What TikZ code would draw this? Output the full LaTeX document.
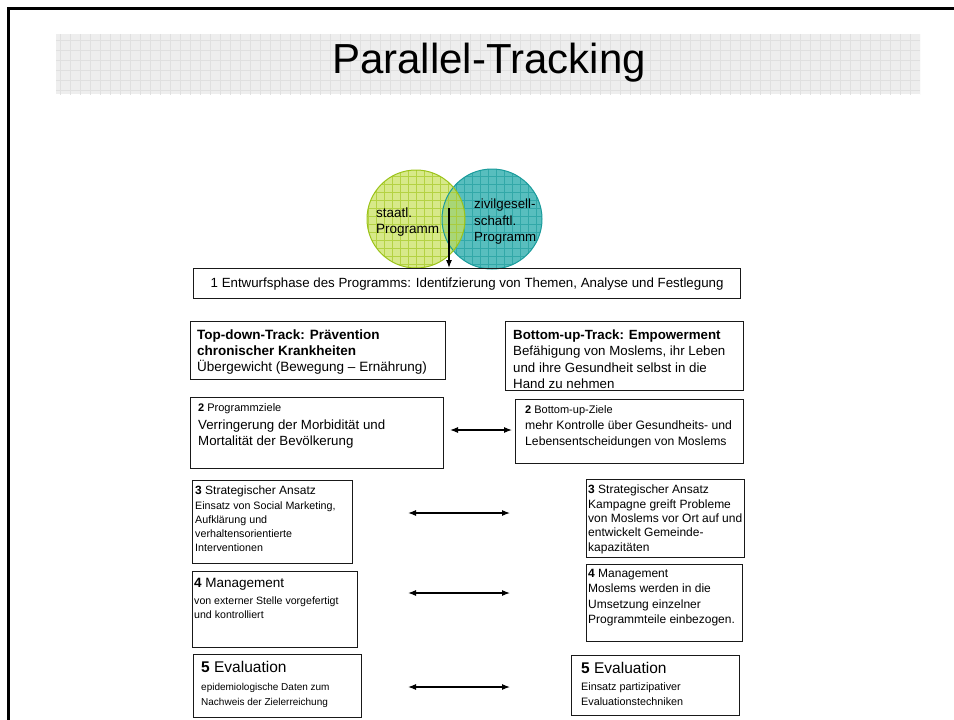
\documentclass[tikz,border=0pt]{standalone}
\usepackage{fontspec}
\setmainfont{Liberation Sans}
\usetikzlibrary{arrows.meta}
\definecolor{boxline}{RGB}{25,25,25}
\definecolor{bannerfill}{RGB}{238,238,238}
\definecolor{bannergrid}{RGB}{224,224,224}
\definecolor{greenfill}{RGB}{200,224,92}
\definecolor{greengrid}{RGB}{172,204,50}
\definecolor{greenedge}{RGB}{155,195,25}
\definecolor{tealfill}{RGB}{88,190,190}
\definecolor{tealgrid}{RGB}{50,168,168}
\definecolor{tealedge}{RGB}{25,155,155}
\newcommand\myfs[2]{\fontsize{#1}{#2}\selectfont}
\begin{document}
\begin{tikzpicture}[x=1pt,y=-1pt,
  bx/.style={draw=boxline, line width=1.2pt, anchor=north west, inner sep=0pt},
  txt/.style={anchor=north west, inner sep=0pt, align=left, text=black},
  dar/.style={{Latex[length=8pt,width=6pt]}-{Latex[length=8pt,width=6pt]}, line width=1.1pt, black},
  sar/.style={-{Latex[length=8pt,width=6pt]}, line width=1.1pt, black}]
\useasboundingbox (0,0) rectangle (954,720);
% frame
\draw[line width=2.5pt, black] (8.5,720) -- (8.5,8.5) -- (954,8.5);
% banner
\fill[bannerfill] (56,34) rectangle (920,94);
\begin{scope}
\clip (56,34) rectangle (920,94);
\draw[bannergrid, line width=0.8pt, step=10pt] (50,30) grid (930,100);
\end{scope}
\node[font=\myfs{42}{48}, inner sep=0pt] (title) at (489,63) {Parallel-Tracking};
% circles: teal first, green translucent on top
\begin{scope}
\clip (492,219) circle[radius=50pt];
\fill[tealfill] (436,160) rectangle (550,280);
\draw[tealgrid, line width=0.6pt, step=8pt] (436,160) grid (550,280);
\end{scope}
\begin{scope}
\clip (416,219) circle[radius=49pt];
\fill[greenfill, fill opacity=0.72] (360,160) rectangle (470,280);
\draw[greengrid, line width=0.6pt, step=8pt, opacity=0.8] (360,160) grid (470,280);
\end{scope}
\draw[tealedge, line width=1pt] (492,219) circle[radius=50pt];
\draw[greenedge, line width=1pt] (416,219) circle[radius=49pt];
\node[txt, anchor=west, font=\myfs{13.5}{16.5}] (cstaat) at (376,222) {staatl.\\Programm};
\node[txt, anchor=west, font=\myfs{13.3}{16.5}] (czivil) at (474,222) {zivilgesell-\\schaftl.\\Programm};
% box 1
\node[bx, minimum width=547pt, minimum height=30pt] (B1) at (193,268) {};
\node[font=\myfs{13.3}{16}, inner sep=0pt] (B1t) at (B1.center) {1 Entwurfsphase des Programms: Identifzierung von Themen, Analyse und Festlegung};
\coordinate (vstart) at (449,208);
\draw[sar] (vstart) -- (vstart |- B1.north);
% tracks
\node[bx, minimum width=255pt, minimum height=58pt] (TD) at (190,321) {};
\node[txt, font=\myfs{13.5}{16}] (TDt) at ([shift={(7,9)}]TD.north west)
  {\textbf{Top-down-Track: Prävention}\\\textbf{chronischer Krankheiten}\\Übergewicht (Bewegung – Ernährung)};
\node[bx, minimum width=238pt, minimum height=69pt] (BU) at (505,321) {};
\node[txt, font=\myfs{13.3}{16.4}] (BUt) at ([shift={(8,8.5)}]BU.north west)
  {\textbf{Bottom-up-Track: Empowerment}\\Befähigung von Moslems, ihr Leben\\und ihre Gesundheit selbst in die\\Hand zu nehmen};
% level 2
\node[bx, minimum width=253pt, minimum height=71pt] (L2) at (190,397) {};
\node[txt, font=\myfs{13.3}{16}] (L2t) at ([shift={(8,6)}]L2.north west)
  {{\myfs{11}{12}\textbf{2} Programmziele}\\[2.5pt]Verringerung der Morbidität und\\Mortalität der Bevölkerung};
\node[bx, minimum width=228pt, minimum height=64pt] (R2) at (515,399) {};
\node[txt, font=\myfs{12.2}{16}] (R2t) at ([shift={(10,6)}]R2.north west)
  {{\myfs{11}{12}\textbf{2} Bottom-up-Ziele}\\mehr Kontrolle über Gesundheits- und\\Lebensentscheidungen von Moslems};
\coordinate (a2l) at (450,430);
\coordinate (a2r) at (512,430);
\draw[dar] (a2l) -- (a2r);
% level 3
\node[bx, minimum width=160pt, minimum height=83pt] (L3) at (192,480) {};
\node[txt, font=\myfs{10.7}{14}] (L3t) at ([shift={(3,6)}]L3.north west)
  {{\myfs{12}{14}\textbf{3} Strategischer Ansatz}\\[1pt]Einsatz von Social Marketing,\\Aufklärung und\\verhaltensorientierte\\Interventionen};
\node[bx, minimum width=158pt, minimum height=78pt] (R3) at (586,479) {};
\node[txt, font=\myfs{12}{14.3}] (R3t) at ([shift={(2,6)}]R3.north west)
  {\textbf{3} Strategischer Ansatz\\Kampagne greift Probleme\\von Moslems vor Ort auf und\\entwickelt Gemeinde-\\kapazitäten};
\coordinate (a3l) at (408,513);
\coordinate (a3r) at (510,513);
\draw[dar] (a3l) -- (a3r);
% level 4
\node[bx, minimum width=165pt, minimum height=76pt] (L4) at (192,571) {};
\node[txt, font=\myfs{10.6}{14}] (L4t) at ([shift={(2,7)}]L4.north west)
  {{\myfs{13.5}{14}\textbf{4} Management}\\[3pt]von externer Stelle vorgefertigt\\und kontrolliert};
\node[bx, minimum width=156pt, minimum height=77pt] (R4) at (586,564) {};
\node[txt, font=\myfs{12}{15.3}] (R4t) at ([shift={(2,5)}]R4.north west)
  {\textbf{4} Management\\Moslems werden in die\\Umsetzung einzelner\\Programmteile einbezogen.};
\coordinate (a4l) at (408,593);
\coordinate (a4r) at (510,593);
\draw[dar] (a4l) -- (a4r);
% level 5
\node[bx, minimum width=168pt, minimum height=63pt] (L5) at (193,654) {};
\node[txt, font=\myfs{10}{15}] (L5t) at ([shift={(8,7)}]L5.north west)
  {{\myfs{15.5}{15}\textbf{5} Evaluation}\\[3pt]epidemiologische Daten zum\\Nachweis der Zielerreichung};
\node[bx, minimum width=168pt, minimum height=60pt] (R5) at (571,655) {};
\node[txt, font=\myfs{10.8}{15}] (R5t) at ([shift={(10,7)}]R5.north west)
  {{\myfs{15.5}{15}\textbf{5} Evaluation}\\[2pt]Einsatz partizipativer\\Evaluationstechniken};
\coordinate (a5l) at (408,687);
\coordinate (a5r) at (510,687);
\draw[dar] (a5l) -- (a5r);
\end{tikzpicture}
\end{document}
